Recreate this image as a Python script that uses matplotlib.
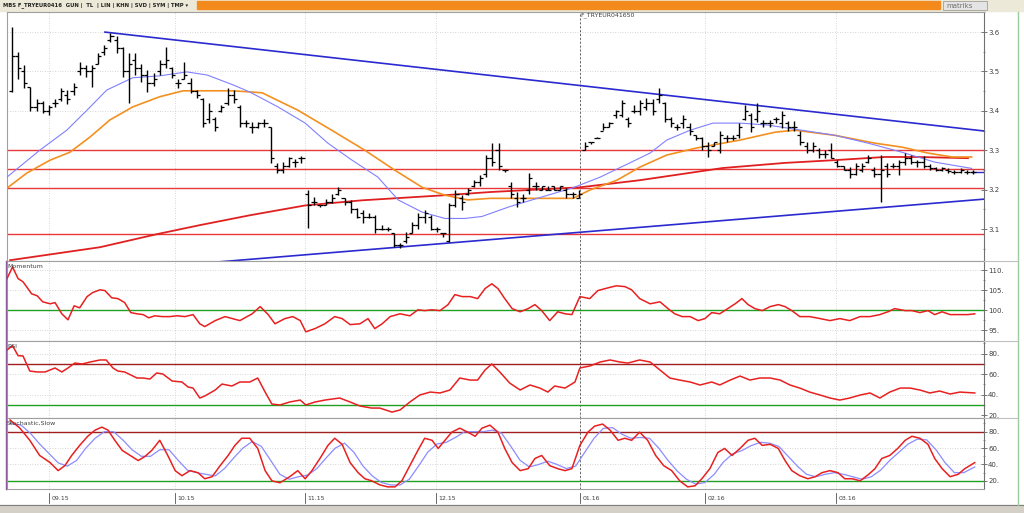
import numpy as np
import matplotlib
matplotlib.use("Agg")
import matplotlib.pyplot as plt
from matplotlib.lines import Line2D
from matplotlib.patches import Rectangle
import matplotlib.transforms as mtrans

plt.rcParams['font.family'] = 'DejaVu Sans'

# ---- daily OHLC bars (bar index 0..156) ----
high = [3.613, 3.55, 3.517, 3.46, 3.43, 3.424, 3.415, 3.43, 3.458, 3.453,
        3.47, 3.525, 3.517, 3.517, 3.547, 3.568, 3.597, 3.589, 3.563, 3.547,
        3.547, 3.52, 3.504, 3.496, 3.53, 3.563, 3.512, 3.48, 3.525, 3.484,
        3.453, 3.433, 3.42, 3.385, 3.415, 3.458, 3.453, 3.415, 3.377, 3.372,
        3.372, 3.38, 3.36, 3.267, 3.27, 3.284, 3.279, 3.286, 3.199, 3.182,
        3.16, 3.177, 3.19, 3.207, 3.18, 3.173, 3.153, 3.148, 3.14, 3.135,
        3.11, 3.105, 3.09, 3.064, 3.092, 3.117, 3.14, 3.148, 3.135, 3.105,
        3.09, 3.166, 3.199, 3.186, 3.204, 3.224, 3.237, 3.288, 3.318, 3.318,
        3.25, 3.22, 3.194, 3.19, 3.242, 3.22, 3.21, 3.21, 3.21, 3.21,
        3.204, 3.194, 3.20, 3.32, 3.32, 3.335, 3.37, 3.372, 3.403, 3.428,
        3.384, 3.415, 3.428, 3.432, 3.43, 3.458, 3.422, 3.385, 3.366, 3.39,
        3.37, 3.34, 3.335, 3.32, 3.32, 3.35, 3.34, 3.34, 3.37, 3.415,
        3.395, 3.42, 3.377, 3.377, 3.385, 3.40, 3.375, 3.375, 3.35, 3.32,
        3.32, 3.305, 3.30, 3.318, 3.275, 3.26, 3.257, 3.267, 3.267, 3.288,
        3.257, 3.288, 3.267, 3.267, 3.275, 3.292, 3.288, 3.275, 3.285, 3.265,
        3.258, 3.258, 3.255, 3.25, 3.255, 3.25, 3.25]
low = [3.449, 3.48, 3.458, 3.40, 3.40, 3.394, 3.39, 3.41, 3.424, 3.418,
       3.44, 3.49, 3.487, 3.46, 3.52, 3.542, 3.576, 3.547, 3.487, 3.42,
       3.49, 3.474, 3.449, 3.462, 3.49, 3.509, 3.484, 3.458, 3.48, 3.445,
       3.433, 3.36, 3.37, 3.35, 3.398, 3.415, 3.42, 3.36, 3.36, 3.344,
       3.356, 3.36, 3.267, 3.242, 3.242, 3.258, 3.258, 3.268, 3.102, 3.16,
       3.155, 3.16, 3.165, 3.186, 3.16, 3.14, 3.127, 3.115, 3.128, 3.09,
       3.097, 3.095, 3.054, 3.052, 3.064, 3.09, 3.10, 3.115, 3.097, 3.092,
       3.08, 3.066, 3.155, 3.148, 3.186, 3.207, 3.21, 3.232, 3.26, 3.25,
       3.245, 3.18, 3.155, 3.17, 3.19, 3.20, 3.20, 3.20, 3.20, 3.20,
       3.18, 3.18, 3.18, 3.30, 3.315, 3.33, 3.352, 3.36, 3.382, 3.384,
       3.36, 3.394, 3.39, 3.402, 3.39, 3.42, 3.372, 3.36, 3.352, 3.356,
       3.34, 3.325, 3.30, 3.283, 3.31, 3.292, 3.32, 3.325, 3.33, 3.377,
       3.347, 3.372, 3.36, 3.36, 3.37, 3.356, 3.35, 3.35, 3.313, 3.292,
       3.295, 3.28, 3.28, 3.28, 3.257, 3.25, 3.23, 3.237, 3.245, 3.267,
       3.232, 3.168, 3.232, 3.255, 3.237, 3.262, 3.265, 3.258, 3.255, 3.25,
       3.248, 3.248, 3.243, 3.24, 3.243, 3.24, 3.24]
opn = [3.45, 3.54, 3.50, 3.46, 3.41, 3.42, 3.40, 3.42, 3.43, 3.44,
       3.45, 3.50, 3.51, 3.50, 3.52, 3.55, 3.58, 3.58, 3.56, 3.50,
       3.53, 3.51, 3.49, 3.47, 3.50, 3.52, 3.51, 3.47, 3.48, 3.47,
       3.45, 3.43, 3.38, 3.38, 3.40, 3.42, 3.44, 3.41, 3.37, 3.36,
       3.36, 3.37, 3.36, 3.26, 3.25, 3.26, 3.27, 3.28, 3.19, 3.17,
       3.16, 3.16, 3.17, 3.19, 3.18, 3.17, 3.15, 3.14, 3.13, 3.13,
       3.10, 3.10, 3.09, 3.06, 3.07, 3.09, 3.11, 3.13, 3.13, 3.10,
       3.09, 3.07, 3.16, 3.18, 3.19, 3.21, 3.22, 3.24, 3.28, 3.30,
       3.25, 3.21, 3.18, 3.18, 3.20, 3.21, 3.20, 3.20, 3.21, 3.20,
       3.20, 3.19, 3.18, 3.30, 3.32, 3.33, 3.35, 3.36, 3.39, 3.39,
       3.38, 3.40, 3.40, 3.41, 3.42, 3.43, 3.42, 3.38, 3.36, 3.37,
       3.36, 3.34, 3.33, 3.31, 3.31, 3.30, 3.33, 3.33, 3.34, 3.38,
       3.39, 3.38, 3.37, 3.37, 3.38, 3.37, 3.37, 3.36, 3.34, 3.31,
       3.30, 3.30, 3.29, 3.30, 3.27, 3.26, 3.25, 3.24, 3.25, 3.27,
       3.25, 3.24, 3.26, 3.26, 3.26, 3.27, 3.28, 3.27, 3.27, 3.26,
       3.255, 3.25, 3.25, 3.245, 3.245, 3.245, 3.245]
cls = [3.54, 3.51, 3.47, 3.41, 3.42, 3.40, 3.41, 3.42, 3.45, 3.43,
       3.46, 3.51, 3.50, 3.51, 3.54, 3.56, 3.59, 3.56, 3.50, 3.52,
       3.51, 3.49, 3.47, 3.48, 3.52, 3.53, 3.49, 3.47, 3.49, 3.45,
       3.44, 3.37, 3.40, 3.36, 3.41, 3.44, 3.43, 3.37, 3.37, 3.36,
       3.37, 3.37, 3.28, 3.25, 3.26, 3.28, 3.27, 3.28, 3.16, 3.17,
       3.16, 3.17, 3.18, 3.20, 3.17, 3.15, 3.13, 3.13, 3.13, 3.10,
       3.10, 3.10, 3.06, 3.06, 3.08, 3.11, 3.13, 3.14, 3.10, 3.10,
       3.09, 3.16, 3.19, 3.17, 3.20, 3.22, 3.23, 3.28, 3.27, 3.26,
       3.25, 3.19, 3.17, 3.18, 3.23, 3.21, 3.21, 3.20, 3.20, 3.21,
       3.19, 3.19, 3.19, 3.31, 3.32, 3.33, 3.36, 3.37, 3.40, 3.42,
       3.37, 3.40, 3.42, 3.42, 3.40, 3.44, 3.38, 3.37, 3.36, 3.38,
       3.35, 3.33, 3.31, 3.30, 3.32, 3.34, 3.33, 3.33, 3.36, 3.40,
       3.36, 3.40, 3.37, 3.37, 3.38, 3.39, 3.36, 3.36, 3.32, 3.30,
       3.31, 3.29, 3.29, 3.28, 3.26, 3.25, 3.24, 3.26, 3.26, 3.28,
       3.24, 3.25, 3.24, 3.26, 3.27, 3.28, 3.27, 3.27, 3.26, 3.255,
       3.25, 3.255, 3.248, 3.245, 3.25, 3.245, 3.245]

# ---- overlays on the price panel (bar index, price) ----
ma_fast_x = [-0.8, 4.5, 8.9, 12.2, 15.4, 19.6, 24.0, 28.4, 31.7, 35.9, 38.6, 43.2,
             47.6, 51.3, 55.2, 59.4, 62.7, 66.6, 70.3, 73.5, 76.3, 80.8, 85.7, 91.1,
             95.5, 100.3, 103.6, 106.3, 110.1, 113.8, 118.2, 122.7, 128.2, 133.6,
             139.0, 144.5, 149.8, 155.8]
ma_fast_y = [3.232, 3.300, 3.351, 3.402, 3.453, 3.484, 3.489, 3.499, 3.491, 3.466,
             3.448, 3.410, 3.369, 3.318, 3.275, 3.232, 3.174, 3.143, 3.127, 3.127,
             3.132, 3.157, 3.180, 3.205, 3.232, 3.268, 3.293, 3.326, 3.351, 3.369,
             3.369, 3.364, 3.351, 3.338, 3.318, 3.295, 3.270, 3.254]
ma_mid_x = [-0.8, 2.4, 6.2, 9.4, 12.7, 15.9, 19.6, 24.0, 27.8, 31.7, 35.9, 40.6,
            46.4, 51.9, 57.3, 62.2, 66.6, 70.3, 74.0, 77.6, 83.0, 91.1, 93.8, 98.2,
            101.9, 106.3, 111.2, 115.4, 118.2, 123.9, 127.1, 133.6, 140.1, 144.5,
            148.7, 152.6, 155.8]
ma_mid_y = [3.204, 3.242, 3.275, 3.295, 3.334, 3.377, 3.410, 3.436, 3.451, 3.451,
            3.451, 3.446, 3.402, 3.351, 3.300, 3.249, 3.206, 3.186, 3.174, 3.178,
            3.178, 3.178, 3.199, 3.224, 3.257, 3.288, 3.306, 3.318, 3.326, 3.346,
            3.351, 3.338, 3.318, 3.308, 3.293, 3.283, 3.283]
ma_slow_x = [-0.3, 14.3, 23.5, 30.5, 38.6, 47.6, 56.8, 70.3, 77.6, 92.2, 101.9,
             115.4, 125.5, 133.6, 141.7, 147.1, 155.2]
ma_slow_y = [3.021, 3.054, 3.087, 3.110, 3.135, 3.160, 3.173, 3.186, 3.194, 3.206,
             3.224, 3.255, 3.268, 3.275, 3.283, 3.283, 3.280]
trend_top_x = [15.1, 157.8]
trend_top_y = [3.600, 3.349]
trend_bot_x = [33.0, 157.8]
trend_bot_y = [3.016, 3.176]
levels = [3.300, 3.252, 3.205, 3.087]
last_price = 3.245

# ---- indicators (bar index, value) ----
mom_x = [-0.8, 0.1, 1.0, 1.8, 3.2, 4.1, 5.0, 6.2, 7.0, 8.1, 9.1, 10.1, 11.0, 12.2,
         13.1, 14.3, 15.1, 16.2, 17.2, 18.3, 19.3, 20.3, 21.3, 22.2, 23.2, 24.4,
         25.6, 26.8, 28.1, 29.4, 30.5, 31.3, 33.0, 34.6, 37.0, 39.0, 40.3, 41.6,
         42.7, 44.3, 45.6, 46.8, 47.7, 49.2, 50.8, 52.4, 53.6, 54.9, 56.5, 57.8,
         58.9, 60.1, 61.4, 63.0, 64.6, 65.9, 67.0, 68.2, 69.5, 70.8, 71.9, 73.1,
         74.4, 75.6, 76.8, 77.9, 78.9, 80.0, 81.2, 82.5, 83.8, 84.9, 86.0, 87.3,
         88.6, 89.8, 90.9, 92.2, 93.8, 95.1, 96.8, 98.1, 99.5, 100.6, 101.9, 103.6,
         105.2, 106.5, 107.6, 108.8, 110.1, 111.4, 112.5, 113.6, 114.9, 116.2,
         117.4, 118.5, 119.5, 120.6, 121.8, 123.1, 124.4, 125.5, 126.6, 127.9,
         129.5, 131.2, 132.8, 134.4, 136.0, 137.7, 139.3, 140.9, 142.2, 143.3,
         145.0, 146.1, 147.4, 148.7, 149.8, 151.0, 152.3, 153.6, 155.2, 156.3]
mom_y = [107.9, 110.8, 107.9, 107.1, 104.1, 103.6, 102.1, 101.6, 101.9, 99.1,
         97.6, 101.1, 100.6, 103.4, 104.4, 105.1, 104.9, 103.1, 102.9, 101.9,
         99.4, 99.1, 98.9, 98.1, 98.6, 98.4, 98.4, 98.6, 98.4, 98.9,
         96.6, 95.9, 97.4, 98.4, 97.4, 99.1, 100.9, 98.9, 96.6, 97.9,
         98.4, 97.4, 94.6, 95.4, 96.6, 98.4, 97.9, 96.4, 96.6, 97.9,
         95.4, 96.6, 98.4, 99.1, 98.6, 100.1, 99.9, 100.1, 99.9, 101.4,
         103.9, 103.4, 103.4, 102.9, 105.4, 106.6, 105.4, 102.9, 100.4, 99.6,
         100.4, 101.4, 99.9, 97.4, 99.6, 99.1, 98.9, 103.4, 102.9, 104.9,
         105.6, 106.1, 105.9, 105.1, 102.9, 101.6, 102.1, 100.4, 99.1, 98.4,
         98.4, 97.4, 97.9, 99.4, 99.1, 100.4, 101.6, 102.9, 101.4, 100.4,
         99.9, 100.9, 101.4, 100.9, 99.9, 98.4, 98.4, 97.9, 97.4, 97.9,
         97.4, 98.4, 98.4, 98.9, 99.6, 100.4, 99.9, 99.9, 99.4, 99.9,
         98.9, 99.6, 98.9, 98.9, 98.9, 99.1]

rsi_x = [-0.8, 0.1, 1.0, 1.8, 2.9, 4.1, 5.4, 7.0, 8.1, 9.1, 10.2, 11.4, 12.7, 14.3,
         15.3, 16.4, 17.2, 18.3, 20.3, 21.3, 22.4, 23.5, 24.5, 26.0, 27.6, 28.6,
         29.4, 30.5, 31.3, 33.0, 34.1, 35.7, 37.0, 38.6, 39.9, 41.1, 42.2, 43.5,
         45.1, 46.8, 47.7, 49.2, 50.8, 53.2, 54.9, 56.5, 58.4, 59.7, 61.7, 63.0,
         64.6, 66.2, 67.9, 69.5, 71.1, 72.7, 74.4, 75.6, 76.8, 77.9, 79.2, 80.8,
         82.5, 84.1, 85.7, 87.0, 88.1, 89.8, 91.4, 92.2, 93.8, 95.5, 97.1, 98.7,
         100.0, 101.9, 103.6, 105.2, 106.8, 108.4, 110.1, 111.7, 113.6, 114.9,
         116.6, 118.2, 119.8, 121.4, 123.1, 124.7, 126.3, 127.9, 129.5, 131.2,
         132.8, 134.4, 136.0, 137.7, 139.3, 140.9, 142.5, 144.2, 145.8, 147.4,
         149.0, 150.6, 152.3, 153.9, 156.3]
rsi_y = [83.4, 87.6, 77.9, 77.6, 62.9, 62.0, 62.0, 65.9, 62.0, 65.9, 70.7, 69.8,
         71.7, 73.7, 73.7, 65.9, 62.9, 62.0, 56.1, 56.1, 55.1, 61.0, 60.0, 53.2,
         52.2, 47.3, 46.3, 36.6, 38.5, 44.4, 50.2, 48.3, 52.2, 52.2, 56.1, 42.4,
         30.7, 29.8, 32.7, 34.6, 29.8, 32.7, 34.6, 36.6, 32.7, 28.8, 26.8, 26.8,
         22.9, 24.9, 32.7, 39.5, 42.4, 41.5, 44.4, 56.1, 54.1, 54.1, 63.9, 69.8,
         62.0, 51.2, 44.4, 49.3, 46.3, 42.4, 48.3, 46.3, 52.2, 65.9, 67.8, 71.7,
         73.7, 71.7, 70.7, 73.7, 71.7, 63.9, 56.1, 54.1, 52.2, 49.3, 52.2, 49.3,
         54.1, 58.0, 54.1, 56.1, 56.1, 54.1, 49.3, 46.3, 42.4, 39.5, 36.6, 34.6,
         36.6, 39.5, 41.5, 36.6, 42.4, 46.3, 46.3, 44.4, 41.5, 43.4, 40.5, 42.4,
         41.5]

stk_x = [-0.3, 1.3, 2.9, 4.5, 6.2, 7.5, 8.6, 9.7, 11.0, 12.3, 13.5, 14.6, 15.6,
         16.7, 17.9, 19.2, 20.5, 21.6, 22.7, 24.0, 25.3, 26.5, 27.6, 28.9, 30.2,
         31.3, 32.5, 33.8, 35.1, 36.2, 37.3, 38.6, 39.9, 41.1, 42.2, 43.5, 45.1,
         46.4, 47.6, 48.7, 50.0, 51.3, 52.4, 53.6, 54.9, 56.2, 57.3, 58.4, 59.7,
         61.0, 62.2, 63.3, 64.6, 65.9, 67.0, 68.2, 69.2, 70.3, 71.4, 72.7, 74.0,
         75.2, 76.3, 77.6, 78.9, 80.0, 81.2, 82.5, 83.8, 84.9, 86.0, 87.3, 88.6,
         89.8, 90.9, 92.2, 93.5, 94.6, 95.9, 97.1, 98.4, 99.5, 100.6, 101.9, 103.2,
         104.5, 105.8, 107.1, 108.4, 109.7, 110.9, 112.0, 113.3, 114.6, 115.7,
         116.9, 118.2, 119.5, 120.6, 121.8, 123.1, 124.4, 125.5, 126.6, 127.9,
         129.2, 130.4, 131.5, 132.8, 134.1, 135.2, 136.4, 137.7, 139.0, 140.1,
         141.2, 142.5, 143.8, 145.0, 146.1, 147.4, 148.7, 149.8, 151.0, 152.3,
         153.6, 154.7, 156.3]
stk_k = [94.2, 84.3, 69.5, 51.0, 42.3, 32.5, 38.6, 51.0, 63.3, 74.4, 81.9, 85.6,
         81.9, 69.5, 57.2, 51.0, 44.8, 49.8, 57.2, 69.5, 51.0, 32.5, 26.3, 32.5,
         30.0, 22.6, 25.1, 38.6, 51.0, 63.3, 72.0, 72.0, 59.6, 32.5, 20.1, 17.7,
         25.1, 32.5, 22.6, 32.5, 47.3, 63.3, 72.0, 64.6, 42.3, 30.0, 22.6, 20.1,
         15.2, 12.7, 12.7, 20.1, 38.6, 57.2, 72.0, 69.5, 59.6, 69.5, 79.4, 84.3,
         79.4, 74.4, 84.3, 88.0, 79.4, 59.6, 42.3, 32.5, 34.9, 47.3, 51.0, 38.6,
         34.9, 32.5, 34.9, 63.3, 79.4, 86.8, 89.3, 81.9, 69.5, 72.0, 69.5, 79.4,
         69.5, 51.0, 38.6, 32.5, 20.1, 12.7, 14.0, 22.6, 34.9, 54.7, 59.6, 51.0,
         59.6, 69.5, 72.0, 63.3, 64.6, 59.6, 44.8, 32.5, 26.3, 22.6, 25.1, 30.0,
         32.5, 30.0, 22.6, 22.6, 20.1, 27.5, 34.9, 47.3, 51.0, 59.6, 69.5, 74.4,
         72.0, 64.6, 47.3, 34.9, 25.1, 28.0, 35.0, 42.3]
std_x = [-0.3, 1.5, 3.0, 4.5, 6.2, 7.5, 9.0, 10.5, 12.0, 13.5, 15.0, 16.5, 18.0,
         19.5, 21.0, 22.5, 24.0, 25.5, 27.0, 28.5, 30.0, 31.5, 33.0, 34.5, 36.0,
         37.5, 39.0, 40.5, 42.0, 43.5, 45.0, 46.5, 48.0, 49.5, 51.0, 52.5, 54.0,
         55.5, 57.0, 58.5, 60.0, 61.5, 63.0, 64.5, 66.0, 67.5, 69.0, 70.5, 72.0,
         73.5, 75.0, 76.5, 78.0, 79.5, 81.0, 82.5, 84.0, 85.5, 87.0, 88.5, 90.0,
         91.5, 93.0, 94.5, 96.0, 97.5, 99.0, 100.5, 102.0, 103.5, 105.0, 106.5,
         108.0, 109.5, 111.0, 112.5, 114.0, 115.5, 117.0, 118.5, 120.0, 121.5,
         123.0, 124.5, 126.0, 127.5, 129.0, 130.5, 132.0, 133.5, 135.0, 136.5,
         138.0, 139.5, 141.0, 142.5, 144.0, 145.5, 147.0, 148.5, 150.0, 151.5,
         153.0, 154.5, 156.3]
std_d = [90, 88, 78, 65, 52, 42, 38, 45, 60, 72, 80, 80, 70, 58, 50, 50, 58, 58,
         45, 33, 30, 28, 26, 35, 48, 60, 68, 62, 45, 28, 22, 25, 27, 35, 48, 60,
         66, 55, 38, 26, 18, 15, 15, 22, 38, 55, 65, 67, 73, 80, 80, 80, 82, 78,
         62, 45, 37, 40, 44, 40, 35, 38, 55, 72, 84, 85, 77, 72, 73, 72, 60, 45,
         32, 22, 16, 18, 28, 43, 53, 57, 63, 67, 66, 62, 50, 38, 28, 25, 28, 30,
         28, 25, 22, 25, 33, 45, 55, 65, 71, 70, 58, 42, 30, 30, 37]

months = ['09.15', '10.15', '11.15', '12.15', '01.16', '02.16', '03.16']
month_pos = [6.0, 26.5, 47.6, 68.8, 92.2, 112.5, 133.8]
marker_pos = 92.2

W, H = 1024, 513


def rect(x0, y0, x1, y1):
    return [x0 / W, 1 - y1 / H, (x1 - x0) / W, (y1 - y0) / H]


fig = plt.figure(figsize=(W / 100, H / 100), dpi=100)
fig.patch.set_facecolor('white')

GRID = '#c8c8c8'
TXT = '#404040'


def style(ax, ylim, major, minor, fmt, hgrid):
    ax.set_xlim(-0.8, 157.8)
    ax.set_ylim(*ylim)
    ax.yaxis.tick_right()
    ax.set_yticks(major)
    ax.set_yticklabels([fmt(v) for v in major], fontsize=5, color=TXT)
    ax.set_yticks(minor, minor=True)
    ax.tick_params(axis='y', which='major', direction='inout', length=4,
                   width=0.6, color='#606060', pad=1)
    ax.tick_params(axis='y', which='minor', direction='inout', length=2,
                   width=0.5, color='#606060')
    ax.set_xticks([])
    for s in ax.spines.values():
        s.set_color('#a0a0a0')
        s.set_linewidth(0.8)
    ax.spines['right'].set_color('#707070')
    for m in month_pos:
        ax.axvline(m, color=GRID, lw=0.6, ls=(0, (1, 2)), zorder=0)
    for g in hgrid:
        ax.axhline(g, color=GRID, lw=0.6, ls=(0, (1, 2)), zorder=0)
    ax.axvline(marker_pos, color='#606060', lw=0.7, ls=(0, (2, 2)), zorder=1)


# ---- price panel ----
ax = fig.add_axes(rect(7, 12, 984, 261))
style(ax, (3.019, 3.651), [3.1, 3.2, 3.3, 3.4, 3.5, 3.6],
      [3.05, 3.15, 3.25, 3.35, 3.45, 3.55, 3.65], lambda v: f'{v:.1f}',
      [3.4, 3.5, 3.6])
for lv in levels:
    ax.axhline(lv, color='#e8383a', lw=1.0, zorder=2)
ax.plot(trend_top_x, trend_top_y, color='#2a2ad0', lw=1.2, zorder=3)
ax.plot(trend_bot_x, trend_bot_y, color='#2a2ad0', lw=1.2, zorder=3)
ax.plot(ma_slow_x, ma_slow_y, color='#e02020', lw=1.3, zorder=3)
ax.plot(ma_mid_x, ma_mid_y, color='#f39020', lw=1.2, zorder=3)
ax.plot(ma_fast_x, ma_fast_y, color='#8080ff', lw=0.8, zorder=3)
ax.plot([155.8, 157.8], [last_price, last_price], color='#2a2ad0', lw=1.0,
        zorder=3)
idx = np.arange(len(high))
ax.vlines(idx, low, high, color='black', lw=1.0, zorder=4)
ax.hlines(opn, idx - 0.5, idx, color='black', lw=0.9, zorder=4)
ax.hlines(cls, idx, idx + 0.5, color='black', lw=0.9, zorder=4)
ax.text(marker_pos, 3.643, 'F_TRYEUR041650', fontsize=4.5, color=TXT,
        ha='left', va='center')

# ---- momentum ----
axm = fig.add_axes(rect(7, 261, 984, 341))
style(axm, (92.3, 112.3), [95, 100, 105, 110], [97.5, 102.5, 107.5],
      lambda v: f'{v:.0f}.', [95, 105, 110])
axm.axhline(100, color='#20a020', lw=1.0, zorder=2)
axm.plot(mom_x, mom_y, color='#e82020', lw=1.1, zorder=3)
axm.text(0.0, 0.93, 'Momentum', transform=axm.transAxes, fontsize=4.5,
         color=TXT, va='center')

# ---- RSI ----
axr = fig.add_axes(rect(7, 341, 984, 418))
style(axr, (17.1, 92.2), [20, 40, 60, 80], [30, 50, 70, 90],
      lambda v: f'{v:.0f}.', [40, 60, 80])
axr.axhline(70, color='#a02020', lw=1.0, zorder=2)
axr.axhline(30, color='#20a020', lw=1.0, zorder=2)
axr.plot(rsi_x, rsi_y, color='#e82020', lw=1.1, zorder=3)
axr.text(0.0, 0.93, 'RSI', transform=axr.transAxes, fontsize=4.5,
         color=TXT, va='center')

# ---- stochastic slow ----
axs = fig.add_axes(rect(7, 418, 984, 489))
style(axs, (10.1, 96.7), [20, 40, 60, 80], [30, 50, 70, 90],
      lambda v: f'{v:.0f}.', [40, 60])
axs.axhline(80, color='#a02020', lw=1.0, zorder=2)
axs.axhline(20, color='#20a020', lw=1.0, zorder=2)
axs.plot(std_x, std_d, color='#8c8cff', lw=0.9, zorder=3)
axs.plot(stk_x, stk_k, color='#e82020', lw=1.1, zorder=3)
axs.text(0.0, 0.93, 'Stochastic,Slow', transform=axs.transAxes, fontsize=4.5,
         color=TXT, va='center')

# date axis
trans = mtrans.blended_transform_factory(axs.transData, axs.transAxes)
for m, lab in zip(month_pos, months):
    axs.plot([m, m], [-0.06, -0.2], color='#505050', lw=0.6, transform=trans,
             clip_on=False)
    axs.text(m + 0.4, -0.13, lab, transform=trans, fontsize=4.5, color=TXT,
             ha='left', va='center', clip_on=False)

# ---- window chrome ----
fig.add_artist(Rectangle((0, 1 - 11 / H), 1, 11 / H, transform=fig.transFigure,
                         color='#ece9d8', zorder=0))
fig.add_artist(Rectangle((197 / W, 1 - 9 / H), 743 / W, 8 / H,
                         transform=fig.transFigure, color='#f28a1e', zorder=1))
fig.text(3 / W, 1 - 5.5 / H,
         'MBS F_TRYEUR0416  GUN |  TL  | LIN | KHN | SVD | SYM | TMP \u25BE',
         fontsize=3.8, color='#202020', va='center', fontweight='bold')
fig.add_artist(Rectangle((943 / W, 1 - 10 / H), 44 / W, 9 / H,
                         transform=fig.transFigure, facecolor='#e4e4e4',
                         edgecolor='#909090', lw=0.5, zorder=1))
fig.text(946 / W, 1 - 5.5 / H, 'matriks', fontsize=5, color='#707070',
         va='center')
fig.add_artist(Rectangle((0, 0), 1, 8 / H, transform=fig.transFigure,
                         color='#d4d0c8', zorder=0))
fig.add_artist(Line2D([0, 1], [8 / H, 8 / H], transform=fig.transFigure,
                      color='#808080', lw=0.8))
fig.add_artist(Line2D([1018 / W, 1018 / W], [8 / H, 1 - 12 / H],
                      transform=fig.transFigure, color='#9ccc9c', lw=1.0))
for yy in [261, 341, 418]:
    fig.add_artist(Line2D([984 / W, 1018 / W], [1 - yy / H, 1 - yy / H],
                          transform=fig.transFigure, color='#c0c0c0', lw=0.8))
fig.add_artist(Line2D([6 / W, 6 / W], [1 - 489 / H, 1 - 261 / H],
                      transform=fig.transFigure, color='#8a5a9a', lw=1.0))

fig.savefig('out.png', dpi=100)
